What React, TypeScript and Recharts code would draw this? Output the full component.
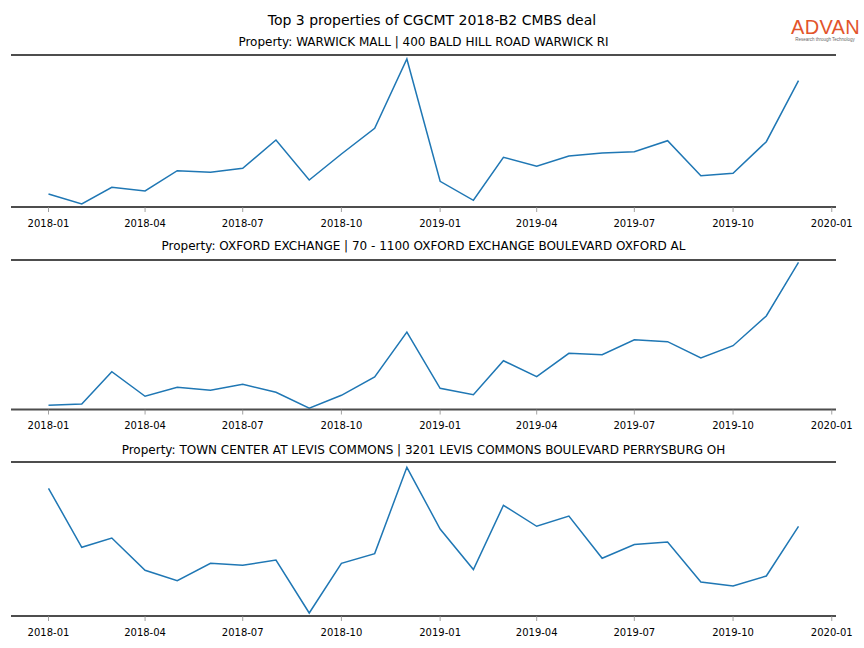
import React from "react";
import { Line, LineChart, ReferenceLine, XAxis, YAxis } from "recharts";

const months = [
  "2018-01", "2018-02", "2018-03", "2018-04", "2018-05", "2018-06",
  "2018-07", "2018-08", "2018-09", "2018-10", "2018-11", "2018-12",
  "2019-01", "2019-02", "2019-03", "2019-04", "2019-05", "2019-06",
  "2019-07", "2019-08", "2019-09", "2019-10", "2019-11", "2019-12",
];

// relative visit index per month
const warwick = [
  13, 3, 19.7, 16, 36.3, 34.7, 38.7, 67, 27, 53, 78.7, 148,
  25.7, 6.7, 49.7, 40.7, 51, 54, 55.3, 66.3, 31.3, 33.7, 65.3, 126.3,
];
const oxford = [
  4.2, 5.5, 37.8, 13.2, 22.2, 19.2, 25.2, 17.2, 1.2, 14.2, 32.5, 77.5,
  21.2, 14.8, 48.8, 32.8, 56.2, 54.8, 69.8, 67.8, 51.5, 63.8, 93.5, 147.2,
];
const levis = [
  127.7, 68.7, 78, 45.7, 35.4, 52.7, 50.7, 56, 3, 52.7, 62.4, 148.7,
  87, 46.4, 110.7, 89.7, 100, 57.7, 71.4, 74, 34, 30, 40, 89.7,
];

const tickLabels = [
  "2018-01", "2018-04", "2018-07", "2018-10", "2019-01",
  "2019-04", "2019-07", "2019-10", "2020-01",
];

const panelTitles = [
  "Property: WARWICK MALL | 400 BALD HILL ROAD WARWICK RI",
  "Property: OXFORD EXCHANGE | 70 - 1100 OXFORD EXCHANGE BOULEVARD OXFORD AL",
  "Property: TOWN CENTER AT LEVIS COMMONS | 3201 LEVIS COMMONS BOULEVARD PERRYSBURG OH",
];

const toDay = (m: string) =>
  Date.UTC(+m.slice(0, 4), +m.slice(5, 7) - 1, 1) / 86400000;

const fmtDay = (d: number) => {
  const dt = new Date(Math.round(d) * 86400000);
  return `${dt.getUTCFullYear()}-${String(dt.getUTCMonth() + 1).padStart(2, "0")}`;
};

const first = toDay(months[0]);
const last = toDay(months[months.length - 1]);
const pad = (last - first) * 0.05;
const xDomain = [first - pad, last + pad];
const xTicks = tickLabels.map(toDay);

const FONT = "'DejaVu Sans', sans-serif";
const SPINE = "#4d4d4d";
const W = 864;
const LEFT = 11;
const RIGHT = 836;

const panels = [
  { title: panelTitles[0], values: warwick, titleY: 42, top: 55, bottom: 207 },
  { title: panelTitles[1], values: oxford, titleY: 246, top: 260, bottom: 409.5 },
  { title: panelTitles[2], values: levis, titleY: 450, top: 462, bottom: 616 },
];

function Panel({
  title,
  values,
  titleY,
  top,
  bottom,
}: {
  title: string;
  values: number[];
  titleY: number;
  top: number;
  bottom: number;
}) {
  const h = bottom - top;
  const data = months.map((m, i) => ({ t: toDay(m), v: values[i] }));
  const mTop = 4;
  const axisH = 30;
  return (
    <>
      <div
        style={{
          position: "absolute",
          left: LEFT,
          width: RIGHT - LEFT,
          top: titleY - 8,
          height: 16,
          lineHeight: "16px",
          textAlign: "center",
          fontSize: 12,
          fontFamily: FONT,
          color: "#000",
          whiteSpace: "nowrap",
        }}
      >
        {title}
      </div>
      <div style={{ position: "absolute", left: 0, top: top - mTop }}>
        <LineChart
          width={W}
          height={h + mTop + axisH}
          data={data}
          margin={{ top: mTop, right: W - RIGHT, left: LEFT, bottom: 0 }}
        >
          <XAxis
            dataKey="t"
            type="number"
            domain={xDomain}
            ticks={xTicks}
            tickFormatter={fmtDay}
            allowDataOverflow
            height={axisH}
            axisLine={{ stroke: SPINE, strokeWidth: 2 }}
            tickLine={{ stroke: "#8a8a8a", strokeWidth: 0.8 }}
            tickSize={5}
            tickMargin={7.5}
            tick={{ fontSize: 10, fill: "#000", fontFamily: FONT }}
          />
          <YAxis hide domain={[0, h]} type="number" allowDataOverflow />
          <ReferenceLine y={h} stroke={SPINE} strokeWidth={2} />
          <Line
            type="linear"
            dataKey="v"
            stroke="#1f77b4"
            strokeWidth={1.5}
            dot={false}
            isAnimationActive={false}
          />
        </LineChart>
      </div>
    </>
  );
}

export default function App() {
  return (
    <div
      style={{
        position: "absolute",
        left: 0,
        top: 0,
        width: W,
        height: 648,
        background: "#fff",
        overflow: "hidden",
      }}
    >
      <div
        style={{
          position: "absolute",
          left: 0,
          width: W,
          top: 11,
          height: 18,
          lineHeight: "18px",
          textAlign: "center",
          fontSize: 14,
          fontFamily: FONT,
          color: "#000",
        }}
      >
        Top 3 properties of CGCMT 2018-B2 CMBS deal
      </div>
      <div
        style={{
          position: "absolute",
          left: 791,
          top: 17,
          width: 68,
          textAlign: "center",
          fontFamily: "'Liberation Sans', Arial, sans-serif",
        }}
      >
        <div
          style={{
            fontSize: 20,
            lineHeight: "20px",
            color: "#e2542b",
            letterSpacing: 0.3,
          }}
        >
          ADVAN
        </div>
        <div
          style={{
            fontSize: 4.5,
            lineHeight: "5px",
            color: "#666",
            whiteSpace: "nowrap",
          }}
        >
          Research through Technology
        </div>
      </div>
      {panels.map((p) => (
        <Panel key={p.title} {...p} />
      ))}
    </div>
  );
}
